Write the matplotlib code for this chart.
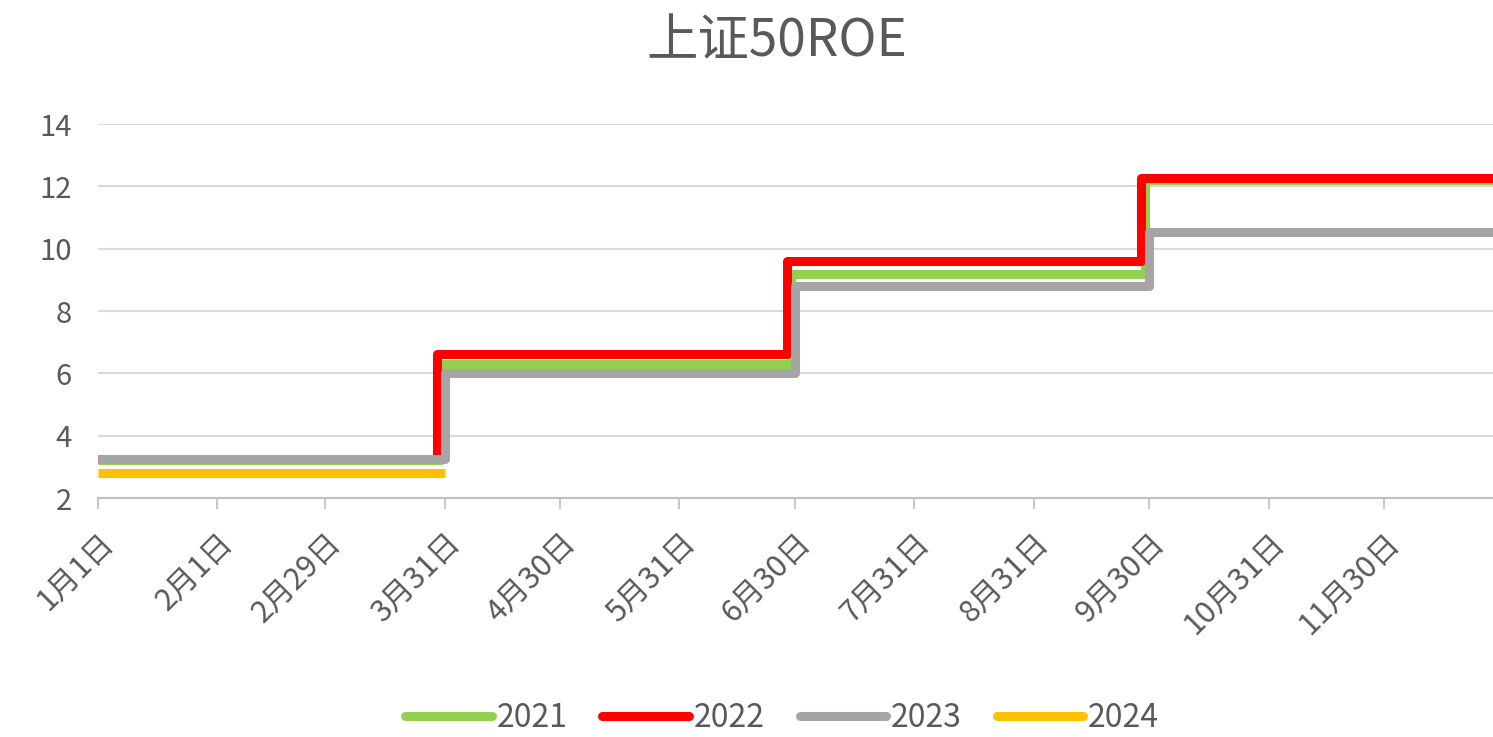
import matplotlib
matplotlib.use("Agg")
import matplotlib.pyplot as plt
import datetime as dt

plt.rcParams['font.family'] = ['Noto Sans CJK SC', 'DejaVu Sans']

# ---- data (step levels and dates where each level starts) ----
title = "上证50ROE"
series_names = ["2021", "2022", "2023", "2024"]
colors = ["#92d050", "#ff0000", "#a5a5a5", "#ffc000"]

dates_2021 = ["2024-01-01", "2024-03-30", "2024-06-29", "2024-09-29", "2024-12-31"]
vals_2021 = [3.22, 6.30, 9.20, 12.20, 12.20]

dates_2022 = ["2024-01-01", "2024-03-29", "2024-06-28", "2024-09-28", "2024-12-31"]
vals_2022 = [3.26, 6.62, 9.60, 12.28, 12.28]

dates_2023 = ["2024-01-01", "2024-03-31", "2024-06-30", "2024-09-30", "2024-12-31"]
vals_2023 = [3.24, 6.00, 8.80, 10.55, 10.55]

dates_2024 = ["2024-01-01", "2024-03-31"]
vals_2024 = [2.80, 2.80]

tick_dates = ["2024-01-01", "2024-02-01", "2024-02-29", "2024-03-31", "2024-04-30",
              "2024-05-31", "2024-06-30", "2024-07-31", "2024-08-31", "2024-09-30",
              "2024-10-31", "2024-11-30"]
tick_labels = ["1月1日", "2月1日", "2月29日", "3月31日", "4月30日", "5月31日",
               "6月30日", "7月31日", "8月31日", "9月30日", "10月31日", "11月30日"]
y_ticks = [2, 4, 6, 8, 10, 12, 14]

def to_dt(lst):
    return [dt.datetime.strptime(s, "%Y-%m-%d") for s in lst]

all_dates = [dates_2021, dates_2022, dates_2023, dates_2024]
all_vals = [vals_2021, vals_2022, vals_2023, vals_2024]

W, H = 1493, 737
fig = plt.figure(figsize=(W / 100, H / 100), dpi=100)
ax = fig.add_axes([98 / W, 1 - 498 / H, (W - 98) / W, (498 - 124) / H])

text_color = "#595959"
LW = 6.5
for name, c, d, v in zip(series_names, colors, all_dates, all_vals):
    ax.plot(to_dt(d), v, drawstyle="steps-post", color=c, lw=LW,
            solid_joinstyle="round", solid_capstyle="butt", label=name)

x0 = dt.datetime(2024, 1, 1)
ax.set_xlim(x0, x0 + dt.timedelta(days=362.3))
ax.set_ylim(2, 14)
ax.set_yticks(y_ticks)
ax.set_yticklabels([str(t) for t in y_ticks])
ax.yaxis.grid(True, color="#d9d9d9", lw=1.5)
ax.set_axisbelow(True)

ax.set_xticks(to_dt(tick_dates))
ax.set_xticklabels(tick_labels, rotation=45, ha="right", va="top",
                   rotation_mode="anchor")

for s in ["top", "right", "left"]:
    ax.spines[s].set_visible(False)
ax.spines["bottom"].set_color("#bfbfbf")
ax.spines["bottom"].set_linewidth(1.5)

ax.tick_params(axis="x", direction="out", length=8, width=1.2, color="#bfbfbf",
               labelsize=22, labelcolor=text_color, pad=13)
ax.tick_params(axis="y", length=0, labelsize=21, labelcolor=text_color, pad=19)

fig.text(777 / W, 1 - 42 / H, title, ha="center", va="center",
         fontsize=37, color=text_color)

leg = fig.legend(loc="center", bbox_to_anchor=(782 / W, 1 - 718 / H), ncol=4,
                 frameon=False, fontsize=23, handlelength=2.7, handletextpad=0.15,
                 columnspacing=1.1)
for t in leg.get_texts():
    t.set_color(text_color)
for l in leg.get_lines():
    l.set_linewidth(LW)
    l.set_solid_capstyle("round")

fig.savefig("out.png", dpi=100)
